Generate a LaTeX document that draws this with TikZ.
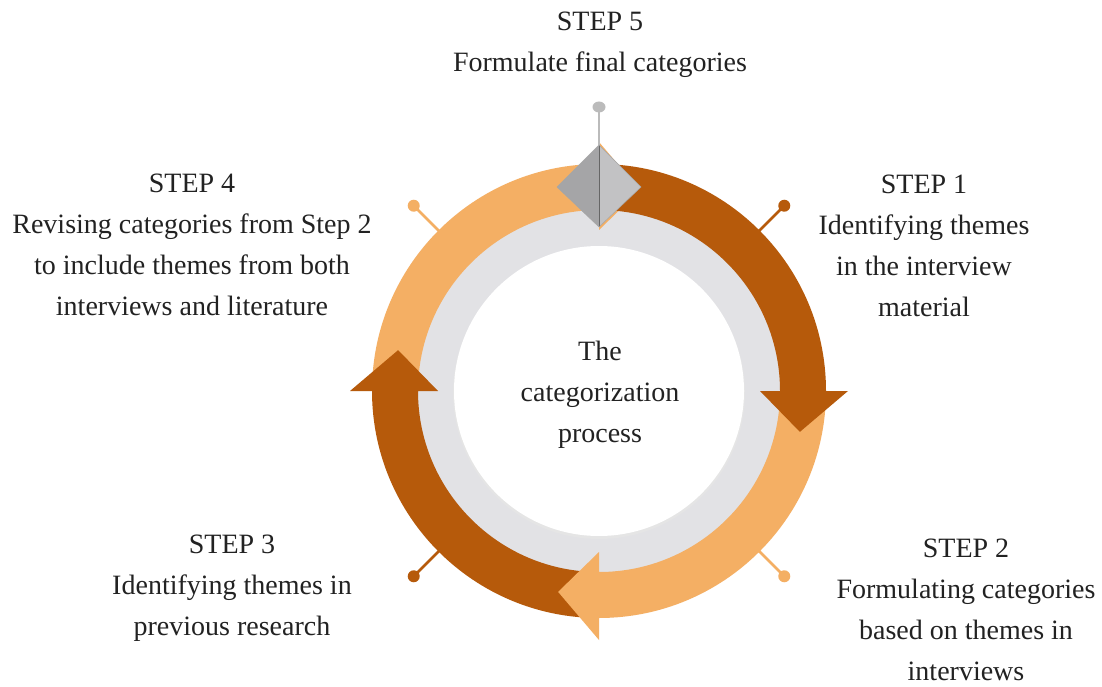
\documentclass[tikz,border=0pt]{standalone}
\usepackage{fontspec}
\setmainfont{Liberation Serif}
\usetikzlibrary{shapes.geometric}
\definecolor{rust}{HTML}{B65A0B}
\definecolor{apricot}{HTML}{F4AF64}
\definecolor{ringgray}{HTML}{E2E2E5}
\definecolor{inkgray}{HTML}{222222}
\definecolor{gemdark}{HTML}{A5A5A7}
\definecolor{gemlight}{HTML}{C2C2C4}
\definecolor{pingray}{HTML}{BBBBBB}
\tikzset{
  label text/.style={font=\fontsize{28}{41}\selectfont, align=center, text=inkgray},
  pin line/.style={line width=2.5pt},
  pin dot/.style={circle, fill=#1, inner sep=0pt, minimum size=12pt},
}
% curved band from angle #1 to angle #2 (clockwise) with an arrow head, colour #3
\newcommand{\ringarrow}[3]{%
  \fill[#3] (#1:227pt) arc[start angle=#1, end angle=#2, radius=227pt]
    -- (#2:249pt) -- ({#2-11.5}:205pt) -- (#2:161pt) -- (#2:181pt)
    arc[start angle=#2, end angle=#1, radius=181pt] -- cycle;
}
\begin{document}
\begin{tikzpicture}
\useasboundingbox (0pt,0pt) rectangle (1102pt,686pt);
\fill[white] (0pt,0pt) rectangle (1102pt,686pt);

\begin{scope}[shift={(599pt,295pt)}]
  % grey ring and white centre
  \fill[ringgray] (0,0) circle[radius=200pt];
  \fill[black!10] (0,-2pt) circle[radius=146pt];
  \fill[white] (0,0) circle[radius=145pt];

  % the four curved arrows, clockwise
  \ringarrow{180}{90}{apricot}
  \ringarrow{-90}{-180}{rust}
  \ringarrow{0}{-90}{apricot}
  \ringarrow{90}{0}{rust}

  % pins of steps 1--4
  \node[pin dot=rust]    (dot1) at (45:262pt) {};
  \node[pin dot=apricot] (dot2) at (-45:262pt) {};
  \node[pin dot=rust]    (dot3) at (-135:262pt) {};
  \node[pin dot=apricot] (dot4) at (135:262pt) {};
  \draw[pin line, rust]    (45:226pt) -- (dot1.center);
  \draw[pin line, apricot] (-45:226pt) -- (dot2.center);
  \draw[pin line, rust]    (-135:226pt) -- (dot3.center);
  \draw[pin line, apricot] (135:226pt) -- (dot4.center);

  % pin of step 5 and the diamond
  \node[ellipse, fill=pingray, inner sep=0pt, minimum width=13pt, minimum height=11pt] (dot5) at (0pt,284pt) {};
  \draw[pingray, line width=2pt] (0pt,246pt) -- (dot5.center);
  \coordinate (gemtop) at (0pt,246pt);
  \coordinate (gemleft) at (-42pt,204pt);
  \coordinate (gemright) at (42pt,204pt);
  \coordinate (gembottom) at (0pt,164pt);
  \fill[gemdark] (gemtop) -- (gemleft) -- (gembottom) -- cycle;
  \fill[gemlight] (gemtop) -- (gemright) -- (gembottom) -- cycle;
  \draw[black!60, line width=0.8pt] (gemtop) -- (gembottom);
  \draw[black!35, line width=0.5pt, line join=round] (gemtop) -- (gemleft) -- (gembottom) -- (gemright) -- cycle;

  % centre text
  \node[label text] (centre) at (1pt,-4pt) {The\\categorization\\process};
\end{scope}

% step texts
\node[label text] (step5) at (600pt,641pt) {STEP 5\\Formulate final categories};
\node[label text] (step4) at (192pt,441pt) {STEP 4\\Revising categories from Step 2\\to include themes from both\\interviews and literature};
\node[label text] (step1) at (924pt,440pt) {STEP 1\\Identifying themes\\in the interview\\material};
\node[label text] (step3) at (232pt,98pt) {STEP 3\\Identifying themes in\\previous research};
\node[label text] (step2) at (966pt,76pt) {STEP 2\\Formulating categories\\based on themes in\\interviews};
\end{tikzpicture}
\end{document}
